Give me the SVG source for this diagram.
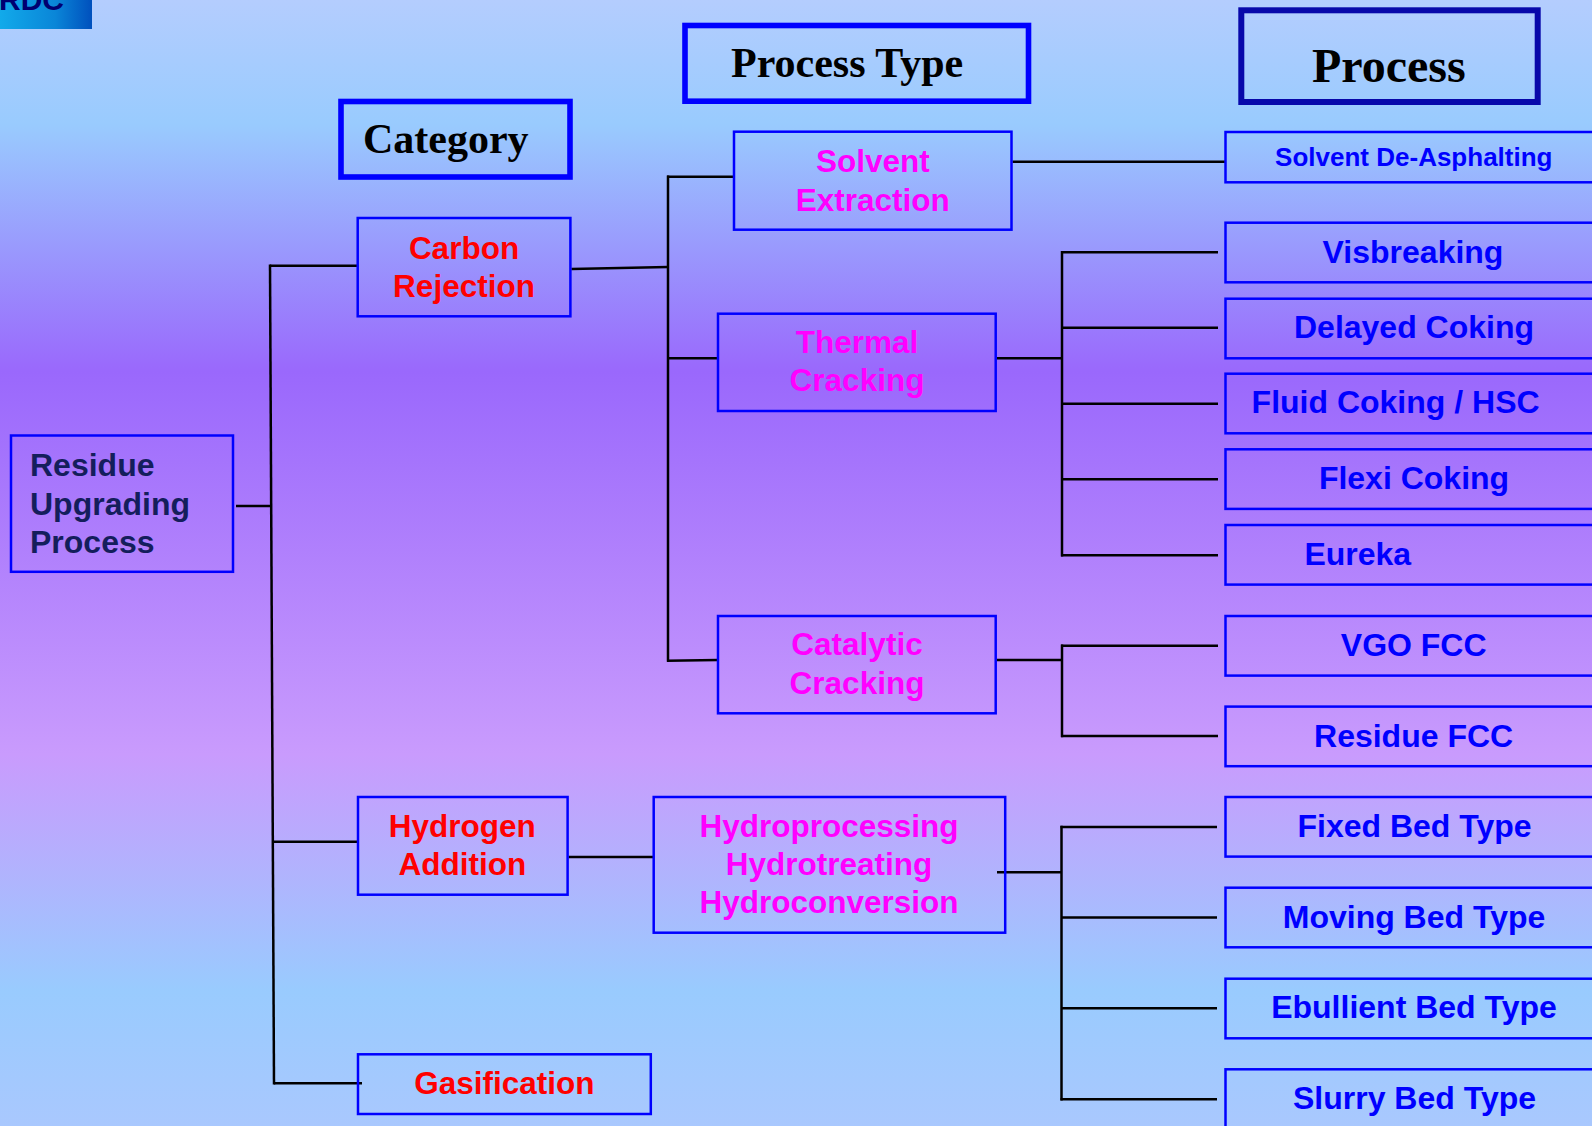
<svg xmlns="http://www.w3.org/2000/svg" width="1592" height="1126" viewBox="0 0 1592 1126">
  <defs>
    <linearGradient id="bg" x1="0" y1="0" x2="0" y2="1">
      <stop offset="0" stop-color="#b4cdfe"/>
      <stop offset="0.11" stop-color="#99cbfe"/>
      <stop offset="0.33" stop-color="#9a68fc"/>
      <stop offset="0.67" stop-color="#c99bfd"/>
      <stop offset="0.88" stop-color="#99cbfe"/>
      <stop offset="1" stop-color="#a9c8fe"/>
    </linearGradient>
    <linearGradient id="logo" x1="0" y1="0" x2="1" y2="0">
      <stop offset="0" stop-color="#12aaea"/>
      <stop offset="0.6" stop-color="#0a86d8"/>
      <stop offset="1" stop-color="#0050bd"/>
    </linearGradient>
    <style>
      .box { fill: none; stroke: #0000ff; stroke-width: 2.5; }
      .hdr { fill: none; stroke: #0000ff; stroke-width: 5.6; }
      .hdr2 { fill: none; stroke: #0808aa; stroke-width: 6; }
      .htxt { font-family: "Liberation Serif", "Times New Roman", serif; font-weight: bold; fill: #000; }
      .t { font-family: "Liberation Sans", Arial, sans-serif; font-weight: bold; font-size: 32px; }
      .root { fill: #141e5c; }
      .cat { fill: #ff0000; font-size: 31.5px; text-anchor: middle; }
      .ptype { fill: #ff00ff; font-size: 31.5px; text-anchor: middle; }
      .proc { fill: #0000ff; text-anchor: middle; }
      .small { font-size: 26px; }
      .wire { stroke: #000; stroke-width: 2.5; fill: none; }
    </style>
  </defs>

  <!-- backdrop -->
  <rect x="0" y="0" width="1592" height="1126" fill="url(#bg)"/>

  <!-- corner badge -->
  <g id="badge">
    <rect x="0" y="0" width="92" height="29" fill="url(#logo)"/>
    <text x="-1" y="10" font-family="Liberation Sans, Arial, sans-serif" font-weight="bold" font-size="30" fill="#000070">RDC</text>
  </g>

  <!-- column headers -->
  <g id="hdr-category">
    <rect class="hdr" x="341" y="101.5" width="229" height="75.5"/>
    <text class="htxt" x="363" y="152.5" font-size="42">Category</text>
  </g>
  <g id="hdr-process-type">
    <rect class="hdr" x="685" y="25.5" width="343.5" height="75.7"/>
    <text class="htxt" x="731" y="77.3" font-size="42">Process Type</text>
  </g>
  <g id="hdr-process">
    <rect class="hdr2" x="1241.3" y="10.3" width="296.4" height="91.7"/>
    <text class="htxt" x="1312" y="81.7" font-size="48">Process</text>
  </g>

  <!-- connectors -->
  <g id="connectors" class="wire">
    <!-- root trunk -->
    <line x1="236" y1="506" x2="271" y2="506"/>
    <line x1="270" y1="264.5" x2="274" y2="1084.5"/>
    <line x1="270" y1="265.7" x2="357" y2="265.7"/>
    <line x1="273" y1="841.7" x2="357" y2="841.7"/>
    <line x1="274" y1="1083.3" x2="362" y2="1083.3"/>
    <!-- carbon rejection trunk -->
    <line x1="571.4" y1="269" x2="668" y2="267"/>
    <line x1="668" y1="175.5" x2="668" y2="661.8"/>
    <line x1="667" y1="176.7" x2="734" y2="176.7"/>
    <line x1="668" y1="358.3" x2="718" y2="358.3"/>
    <line x1="667" y1="660.7" x2="718" y2="660"/>
    <!-- solvent extraction -->
    <line x1="1012.5" y1="161.7" x2="1225" y2="161.7"/>
    <!-- thermal cracking -->
    <line x1="996.7" y1="358.3" x2="1062" y2="358.3"/>
    <line x1="1062" y1="251" x2="1062" y2="556.5"/>
    <line x1="1061" y1="252.3" x2="1218" y2="252.3"/>
    <line x1="1062" y1="327.7" x2="1218" y2="327.7"/>
    <line x1="1062" y1="403.7" x2="1218" y2="403.7"/>
    <line x1="1062" y1="479.3" x2="1218" y2="479.3"/>
    <line x1="1061" y1="555.3" x2="1218" y2="555.3"/>
    <!-- catalytic cracking -->
    <line x1="996.7" y1="660" x2="1062" y2="660"/>
    <line x1="1062" y1="644.5" x2="1062" y2="737.2"/>
    <line x1="1061" y1="645.7" x2="1218" y2="645.7"/>
    <line x1="1061" y1="736" x2="1218" y2="736"/>
    <!-- hydrogen addition -->
    <line x1="568.6" y1="857" x2="653" y2="857"/>
    <line x1="997" y1="872.3" x2="1062" y2="872.3"/>
    <line x1="1061.5" y1="825.8" x2="1061.5" y2="1100.5"/>
    <line x1="1060.5" y1="827" x2="1217" y2="827"/>
    <line x1="1061.5" y1="917.5" x2="1217" y2="917.5"/>
    <line x1="1061.5" y1="1008.3" x2="1217" y2="1008.3"/>
    <line x1="1060.5" y1="1099.3" x2="1217" y2="1099.3"/>
  </g>

  <!-- root -->
  <g id="n-root">
    <rect class="box" x="11" y="435.5" width="222" height="136.3"/>
    <text class="t root" x="30" y="476">Residue</text>
    <text class="t root" x="30" y="515">Upgrading</text>
    <text class="t root" x="30" y="553.3">Process</text>
  </g>

  <!-- categories -->
  <g id="n-carbon">
    <rect class="box" x="357.7" y="218" width="212.7" height="98.3"/>
    <text class="t cat" x="464" y="259">Carbon</text>
    <text class="t cat" x="464" y="296.7">Rejection</text>
  </g>
  <g id="n-hydrogen">
    <rect class="box" x="358" y="797" width="209.6" height="97.7"/>
    <text class="t cat" x="462.3" y="837.3">Hydrogen</text>
    <text class="t cat" x="462.3" y="875">Addition</text>
  </g>
  <g id="n-gasification">
    <rect class="box" x="358" y="1054.3" width="292.8" height="59.7"/>
    <text class="t cat" x="504.4" y="1094">Gasification</text>
  </g>

  <!-- process types -->
  <g id="n-solvent">
    <rect class="box" x="734" y="131.7" width="277.5" height="98"/>
    <text class="t ptype" x="872.8" y="171.7">Solvent</text>
    <text class="t ptype" x="872.8" y="210.7">Extraction</text>
  </g>
  <g id="n-thermal">
    <rect class="box" x="718" y="313.7" width="277.7" height="97.3"/>
    <text class="t ptype" x="857" y="353.3">Thermal</text>
    <text class="t ptype" x="857" y="390.7">Cracking</text>
  </g>
  <g id="n-catalytic">
    <rect class="box" x="718" y="616" width="277.7" height="97.3"/>
    <text class="t ptype" x="857" y="655">Catalytic</text>
    <text class="t ptype" x="857" y="694.3">Cracking</text>
  </g>
  <g id="n-hydroproc">
    <rect class="box" x="653.7" y="797" width="351.5" height="135.7"/>
    <text class="t ptype" x="829" y="837.3">Hydroprocessing</text>
    <text class="t ptype" x="829" y="875">Hydrotreating</text>
    <text class="t ptype" x="829" y="913.3">Hydroconversion</text>
  </g>

  <!-- processes -->
  <g id="n-sda">
    <rect class="box" x="1225.5" y="132" width="400" height="50.3"/>
    <text class="t proc small" x="1413.8" y="166">Solvent De-Asphalting</text>
  </g>
  <g id="n-visbreaking">
    <rect class="box" x="1225.5" y="222.7" width="400" height="59.6"/>
    <text class="t proc" x="1413" y="263.3">Visbreaking</text>
  </g>
  <g id="n-delayed">
    <rect class="box" x="1225.5" y="298.7" width="400" height="59.6"/>
    <text class="t proc" x="1414" y="338.3">Delayed Coking</text>
  </g>
  <g id="n-fluid">
    <rect class="box" x="1225.5" y="373.7" width="400" height="59.6"/>
    <text class="t proc" x="1395.6" y="413.3">Fluid Coking / HSC</text>
  </g>
  <g id="n-flexi">
    <rect class="box" x="1225.5" y="449.3" width="400" height="59.6"/>
    <text class="t proc" x="1414" y="489">Flexi Coking</text>
  </g>
  <g id="n-eureka">
    <rect class="box" x="1225.5" y="525" width="400" height="59.6"/>
    <text class="t proc" x="1357.8" y="565">Eureka</text>
  </g>
  <g id="n-vgofcc">
    <rect class="box" x="1225.5" y="616" width="400" height="59.6"/>
    <text class="t proc" x="1413.7" y="656">VGO FCC</text>
  </g>
  <g id="n-residfcc">
    <rect class="box" x="1225.5" y="706.6" width="400" height="59.6"/>
    <text class="t proc" x="1413.6" y="746.5">Residue FCC</text>
  </g>
  <g id="n-fixed">
    <rect class="box" x="1225.5" y="797" width="400" height="59.6"/>
    <text class="t proc" x="1414.5" y="837.3">Fixed Bed Type</text>
  </g>
  <g id="n-moving">
    <rect class="box" x="1225.5" y="887.7" width="400" height="59.6"/>
    <text class="t proc" x="1414" y="928.3">Moving Bed Type</text>
  </g>
  <g id="n-ebullient">
    <rect class="box" x="1225.5" y="978.7" width="400" height="59.6"/>
    <text class="t proc" x="1414" y="1018.3">Ebullient Bed Type</text>
  </g>
  <g id="n-slurry">
    <rect class="box" x="1225.5" y="1069.3" width="400" height="100"/>
    <text class="t proc" x="1414.5" y="1109">Slurry Bed Type</text>
  </g>
</svg>
